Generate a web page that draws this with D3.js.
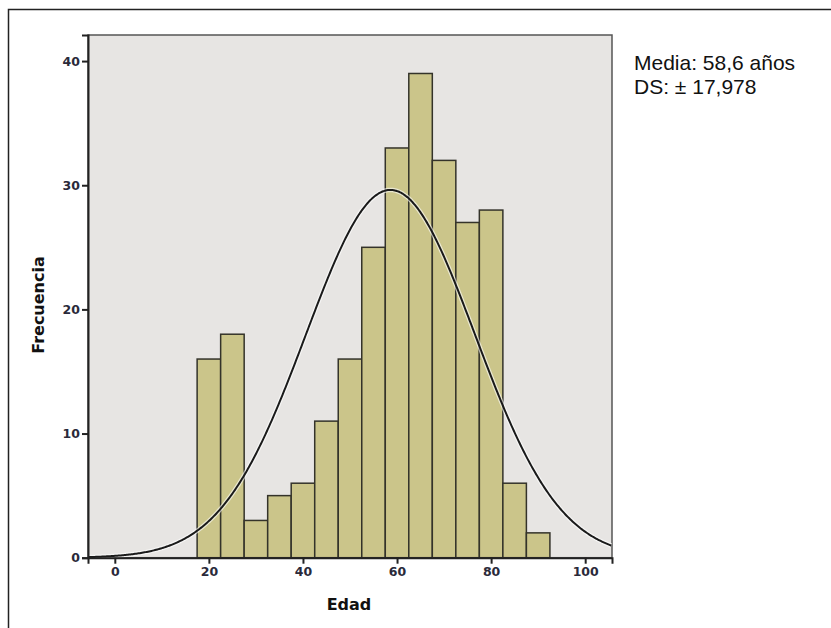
<!DOCTYPE html>
<html><head><meta charset="utf-8">
<script src="https://cdn.jsdelivr.net/npm/d3@7"></script>
<style>body{margin:0;background:#fff}svg{display:block}</style>
</head><body><svg id="c" width="831" height="628"></svg>
<script>
// ---- data ----
const binStarts = [17.5,22.5,27.5,32.5,37.5,42.5,47.5,52.5,57.5,62.5,67.5,72.5,77.5,82.5,87.5];
const binWidth = 5;
const counts = [16,18,3,5,6,11,16,25,33,39,32,27,28,6,2];
const xTicks = [0,20,40,60,80,100];
const yTicks = [0,10,20,30,40];
const meanAge = 58.6;
const sdAge = 17.978;
const statLines = ["Media: 58,6 años", "DS: ± 17,978"];
const xTitle = "Edad";
const yTitle = "Frecuencia";

// ---- chart ----
const svg = d3.select("#c");
const L = 88, R = 612, T = 35, B = 557.7;
const x = d3.scaleLinear().domain([-5.7, 105.7]).range([L, R]);
const y = d3.scaleLinear().domain([0, 42.1]).range([B, T]);

// outer frame (cropped: top and left visible)
svg.append("rect").attr("x", 8.5).attr("y", 9.5).attr("width", 900).attr("height", 700)
  .attr("fill", "none").attr("stroke", "#222").attr("stroke-width", 1.5);

// plot background
svg.append("rect").attr("x", L).attr("y", T).attr("width", R - L).attr("height", B - T)
  .attr("fill", "#e7e5e3").attr("stroke", "#555").attr("stroke-width", 1.5);

const data = binStarts.map((s, i) => ({s, c: counts[i]}));
svg.append("g").selectAll("rect").data(data).join("rect")
  .attr("x", d => x(d.s)).attr("width", d => x(d.s + binWidth) - x(d.s))
  .attr("y", d => y(d.c)).attr("height", d => y(0) - y(d.c))
  .attr("fill", "#cbc58a").attr("stroke", "#34332a").attr("stroke-width", 1.5);

// normal curve
const N = d3.sum(counts);
const xs = d3.range(-5.7, 105.71, 0.25);
const dens = v => N * binWidth / (sdAge * Math.sqrt(2 * Math.PI)) * Math.exp(-0.5 * Math.pow((v - meanAge) / sdAge, 2));
const line = d3.line().x(d => x(d)).y(d => y(dens(d))).curve(d3.curveBasis);
svg.append("path").datum(xs).attr("d", line).attr("fill", "none")
  .attr("stroke", "#fff").attr("stroke-opacity", 0.6).attr("stroke-width", 4.5);
svg.append("path").datum(xs).attr("d", line).attr("fill", "none")
  .attr("stroke", "#1a1a1a").attr("stroke-width", 2);

// axes
const xAxis = d3.axisBottom(x).tickValues(xTicks).tickSize(6).tickPadding(3);
const yAxis = d3.axisLeft(y).tickValues(yTicks).tickSize(6).tickPadding(2);
const gx = svg.append("g").attr("transform", `translate(0,${B})`).call(xAxis);
const gy = svg.append("g").attr("transform", `translate(${L},0)`).call(yAxis);
[gx, gy].forEach(g => {
  g.select(".domain").attr("stroke", "#222").attr("stroke-width", 2);
  g.selectAll(".tick line").attr("stroke", "#222").attr("stroke-width", 2);
  g.selectAll(".tick text").attr("fill", "#2a2a3a").attr("font-family", "DejaVu Sans")
    .attr("font-weight", "bold").attr("font-size", 12.5);
});

// titles
svg.append("text").attr("x", 349).attr("y", 610).attr("text-anchor", "middle")
  .attr("font-family", "DejaVu Sans").attr("font-weight", "bold").attr("font-size", 16)
  .attr("fill", "#111").text(xTitle);
svg.append("text").attr("transform", "translate(44,305) rotate(-90)").attr("text-anchor", "middle")
  .attr("font-family", "DejaVu Sans").attr("font-weight", "bold").attr("font-size", 16)
  .attr("fill", "#111").text(yTitle);

// stats annotation
svg.append("g").selectAll("text").data(statLines).join("text")
  .attr("x", 634).attr("y", (d, i) => 70 + i * 24)
  .attr("font-family", "Liberation Sans, Arial, sans-serif").attr("font-size", 21)
  .attr("fill", "#111").text(d => d);
</script>
</body></html>
